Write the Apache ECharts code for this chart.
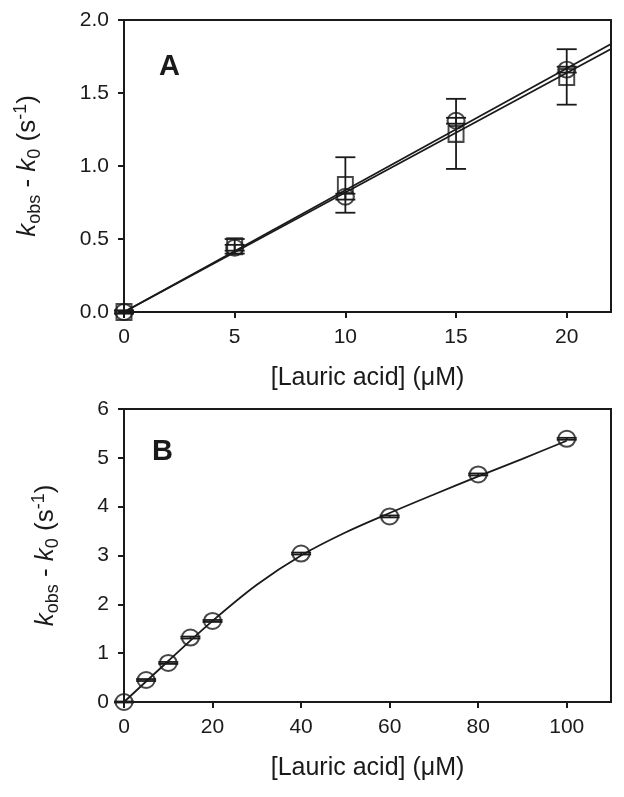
<!DOCTYPE html>
<html>
<head>
<meta charset="utf-8">
<script src="https://cdn.jsdelivr.net/npm/echarts@6/dist/echarts.min.js"></script>
<style>
  html, body { margin: 0; padding: 0; background: #fff; }
  #chart { width: 624px; height: 797px; }
</style>
</head>
<body>
<div id="chart"></div>
<script>
// panel A: low concentrations, two data sets
const concA = [0, 5, 10, 15, 20];
const circleA = [0, 0.44, 0.79, 1.31, 1.66];
const circleErrA = [0.01, 0.02, 0.02, 0.02, 0.02];
const squareA = [0, 0.45, 0.87, 1.22, 1.61];
const squareErrA = [0.01, 0.05, 0.19, 0.24, 0.19];
// fitted straight lines
const fitXA = [0, 22];
const fitCircleA = [0, 1.836];
const fitSquareA = [0, 1.801];
const xTicksA = [0, 5, 10, 15, 20];

// panel B: full range
const concB = [0, 5, 10, 15, 20, 40, 60, 80, 100];
const kB = [0, 0.45, 0.80, 1.32, 1.66, 3.04, 3.80, 4.66, 5.39];
const errB = [0.01, 0.02, 0.02, 0.02, 0.02, 0.02, 0.02, 0.02, 0.02];
// fitted curve
const curveXB = [0, 10, 20, 30, 40, 50, 60, 70, 80, 90, 100];
const curveYB = [0, 0.84, 1.66, 2.40, 3.00, 3.47, 3.87, 4.25, 4.62, 4.98, 5.35];
const xTicksB = [0, 20, 40, 60, 80, 100];

const ink = '#1a1a1a';
const font = '"Liberation Sans", Arial, sans-serif';

const chart = echarts.init(document.getElementById('chart'));

function pairs (xs, ys) {
  return xs.map((x, i) => [x, ys[i]]);
}

// vertical error bars with caps
function errorBars (idx, xs, ys, errs, capW) {
  return {
    type: 'custom',
    xAxisIndex: idx,
    yAxisIndex: idx,
    clip: false,
    z: 4,
    data: xs.map((x, i) => [x, ys[i] - errs[i], ys[i] + errs[i]]),
    renderItem: (params, api) => {
      const lo = api.coord([api.value(0), api.value(1)]);
      const hi = api.coord([api.value(0), api.value(2)]);
      const h = capW / 2;
      const style = { stroke: ink, lineWidth: 1.8 };
      return {
        type: 'group',
        children: [
          { type: 'line', shape: { x1: lo[0], y1: lo[1], x2: hi[0], y2: hi[1] }, style },
          { type: 'line', shape: { x1: lo[0] - h, y1: lo[1], x2: lo[0] + h, y2: lo[1] }, style },
          { type: 'line', shape: { x1: hi[0] - h, y1: hi[1], x2: hi[0] + h, y2: hi[1] }, style }
        ]
      };
    }
  };
}

function markers (idx, xs, ys, symbol, size) {
  return {
    type: 'scatter',
    xAxisIndex: idx,
    yAxisIndex: idx,
    symbol: symbol,
    symbolSize: size,
    clip: false,
    z: 5,
    itemStyle: { color: 'rgba(0,0,0,0)', borderColor: ink, borderWidth: 2 },
    data: pairs(xs, ys)
  };
}

function fitLine (idx, xs, ys, smooth) {
  return {
    type: 'line',
    xAxisIndex: idx,
    yAxisIndex: idx,
    showSymbol: false,
    smooth: smooth,
    z: 3,
    lineStyle: { color: ink, width: 1.8 },
    data: pairs(xs, ys)
  };
}

const yName = '{k|k}{sub|obs}{t| - }{k|k}{sub|0}{t| (s}{sup|-1}{t|)}';
const yRich = {
  k: { fontStyle: 'italic', fontSize: 26, fontFamily: font, color: ink, lineHeight: 32, verticalAlign: 'middle' },
  t: { fontSize: 26, fontFamily: font, color: ink, lineHeight: 32, verticalAlign: 'middle' },
  sub: { fontSize: 18, fontFamily: font, color: ink, lineHeight: 15, verticalAlign: 'bottom' },
  sup: { fontSize: 18, fontFamily: font, color: ink, lineHeight: 15, verticalAlign: 'top' }
};

function xAxisCfg (idx, max, interval, ticks) {
  return {
    gridIndex: idx,
    type: 'value',
    min: 0,
    max: max,
    interval: interval,
    name: '[Lauric acid] (\u03bcM)',
    nameLocation: 'middle',
    nameGap: 54,
    nameTextStyle: { fontSize: 25, fontFamily: font, color: ink },
    axisLine: { show: true, onZero: false, lineStyle: { color: ink, width: 2 } },
    axisTick: { show: true, inside: false, length: 6, customValues: ticks, lineStyle: { color: ink, width: 2 } },
    axisLabel: { margin: 15, fontSize: 21, fontFamily: font, color: ink, customValues: ticks },
    splitLine: { show: false }
  };
}

function yAxisCfg (idx, max, interval, digits, gap) {
  return {
    gridIndex: idx,
    type: 'value',
    min: 0,
    max: max,
    interval: interval,
    name: yName,
    nameLocation: 'middle',
    nameGap: gap,
    nameTextStyle: { rich: yRich },
    axisLine: { show: true, onZero: false, lineStyle: { color: ink, width: 2 } },
    axisTick: { show: true, inside: false, length: 6, lineStyle: { color: ink, width: 2 } },
    axisLabel: {
      margin: 15, fontSize: 21, fontFamily: font, color: ink,
      formatter: v => v.toFixed(digits)
    },
    splitLine: { show: false }
  };
}

chart.setOption({
  backgroundColor: '#fff',
  animation: false,
  title: [
    { text: 'A', left: 159, top: 52, padding: 0, textStyle: { fontSize: 29, fontWeight: 'bold', fontFamily: font, color: ink } },
    { text: 'B', left: 152, top: 437, padding: 0, textStyle: { fontSize: 29, fontWeight: 'bold', fontFamily: font, color: ink } }
  ],
  grid: [
    { left: 124, top: 20, width: 487, height: 292, show: true, borderColor: ink, borderWidth: 2, backgroundColor: 'transparent' },
    { left: 124, top: 409, width: 487, height: 293, show: true, borderColor: ink, borderWidth: 2, backgroundColor: 'transparent' }
  ],
  xAxis: [
    xAxisCfg(0, 22, 5, xTicksA),
    xAxisCfg(1, 110, 20, xTicksB)
  ],
  yAxis: [
    yAxisCfg(0, 2, 0.5, 1, 80),
    yAxisCfg(1, 6, 1, 0, 62)
  ],
  series: [
    fitLine(0, fitXA, fitCircleA, false),
    fitLine(0, fitXA, fitSquareA, false),
    errorBars(0, concA, squareA, squareErrA, 20),
    errorBars(0, concA, circleA, circleErrA, 20),
    markers(0, concA, squareA, 'rect', [15, 16]),
    markers(0, concA, circleA, 'circle', [17, 16]),
    fitLine(1, curveXB, curveYB, 0.35),
    errorBars(1, concB, kB, errB, 20),
    markers(1, concB, kB, 'circle', [17, 16])
  ]
});
</script>
</body>
</html>
